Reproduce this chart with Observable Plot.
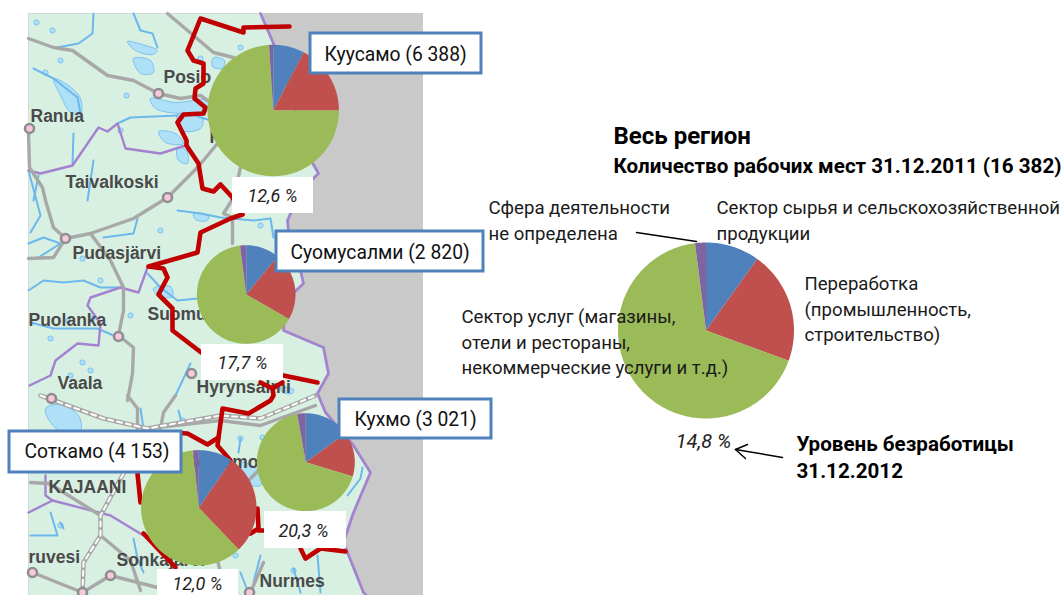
<!DOCTYPE html>
<html><head><meta charset="utf-8">
<script src="https://cdn.jsdelivr.net/npm/d3@7"></script>
<script src="https://cdn.jsdelivr.net/npm/@observablehq/plot@0.6"></script>
<style>html,body{margin:0;padding:0;background:#fff;overflow:hidden}svg{display:block}</style>
</head><body><div id="chart"></div>
<script>
// --- chart values ---
const sectors = ["Сектор сырья и сельскохозяйственной продукции","Переработка","Сектор услуг","Сфера деятельности не определена"];
const sectorColors = ["#4f81bd","#c0504d","#9bbb59","#8064a2"];
const kuusamo = [7.7,17.3,74,1];
const suomussalmi = [11,22.3,64.7,2];
const kuhmo = [15,14.7,67.5,2.8];
const sotkamo = [9.6,28.3,60.5,1.6];
const region = [9.9,20.7,67.4,2];
const pies = [
  {name:"Куусамо", values:kuusamo, cx:272.7, cy:110, r:65.7},
  {name:"Суомусалми", values:suomussalmi, cx:245.7, cy:294, r:49.3},
  {name:"Кухмо", values:kuhmo, cx:305.3, cy:461.7, r:49},
  {name:"Соткамо", values:sotkamo, cx:198.3, cy:507.3, r:57.7},
  {name:"Весь регион", values:region, cx:705.5, cy:330, r:88}
];
// --- background map in image coordinates ---
const land = [[28,13],[260,13],[273,43],[290,90],[305,150],[318,173],[300,190],[287,220],[290,250],[300,270],[303,283],[285,300],[283,330],[323,347],[328,373],[317,393],[325,412],[353,445],[370,472],[353,512],[343,542],[363,592],[366,595],[28,595]];
const eastBorder = land.slice(1,23);
const purple = [
 [[28,170],[40,173],[72,165],[98,127],[107,131],[117,123],[125,148],[160,153],[185,145]],
 [[147,267],[138,292],[120,287],[90,297],[87,305],[100,323],[98,345],[77,343],[55,360],[50,375],[29,385]],
 [[28,512],[52,500],[110,515],[143,535]],[[45,475],[45,495],[52,500]]
];
const roads = [
 [[28,38],[53,47],[72,50],[107,75],[133,80],[158,93],[180,98],[200,95],[207,100]],
 [[167,13],[193,35],[213,52],[233,57]],
 [[28,133],[29,167],[42,187],[45,200],[53,227],[65,238]],
 [[28,258],[53,257],[65,238],[90,233],[133,218],[167,197],[197,167],[217,143]],
 [[90,233],[110,260],[123,287],[123,310],[118,335],[133,347],[132,373],[127,400]],
 [[240,167],[233,197],[223,213],[232,217],[232,243]],
 [[127,395],[137,408],[137,428]],[[160,428],[163,412],[175,395]],
 [[30,482],[48,483]],[[110,575],[82,592]],[[32,572],[82,592]],[[110,575],[157,587]],
 [[250,592],[263,562]],[[248,480],[258,470]],[[215,550],[225,595]],
 [[100,515],[60,490],[48,483]],[[100,535],[130,560],[140,590]],[[147,428],[220,420],[260,425],[315,405]]
];
const rail = [
 [[40,395],[103,418],[147,428],[220,415],[260,418],[315,395]],
 [[123,473],[100,515],[100,535],[83,562],[82,592]]
];
const rivers = [
 [[93,13],[92,33],[78,43],[57,47]],[[133,13],[140,30],[152,33],[157,47]],
 [[33,68],[53,78],[77,97],[80,113]],[[117,123],[130,117],[177,115]],
 [[73,133],[72,163]],[[93,160],[87,200]],[[33,200],[38,175]],
 [[28,290],[43,280],[63,282],[83,280],[100,287],[120,287]],
 [[147,273],[160,287],[177,300],[197,298]],
 [[30,322],[53,328],[97,328],[113,335]],
 [[28,243],[43,237],[60,243],[38,257]],
 [[137,218],[133,233],[103,237]],
 [[177,210],[200,213],[220,217],[253,220],[270,218],[273,237]],
 [[190,363],[175,395]],[[140,408],[143,428]],[[178,410],[182,425]],
 [[240,438],[238,452]],[[362,467],[360,478],[347,495]],
 [[260,555],[253,582]],[[293,568],[300,592]],[[317,555],[320,592]],[[240,572],[247,590]],
 [[133,538],[137,558],[143,572]],[[60,522],[63,528]],[[50,512],[57,535],[30,535]],
 [[195,115],[225,125],[212,135]],[[28,170],[40,215],[30,232]]
];
const lakes = [
 [[45,408],[60,404],[78,415],[80,430],[62,432],[50,422]],
 [[150,98],[175,102],[207,100],[205,112],[180,113],[155,108]],
 [[127,41],[145,45],[157,50],[152,54],[135,50]],
 [[133,58],[150,60],[153,72],[140,73]],
 [[213,57],[224,60],[222,68],[212,66]],
 [[53,78],[68,85],[80,98],[80,114],[70,112],[60,95]],
 [[177,114],[202,118],[200,128],[182,130]],
 [[158,131],[175,133],[183,143],[165,142]],
 [[177,147],[186,150],[187,163],[178,160]],
 [[240,462],[258,470],[260,485],[245,482]],
 [[193,213],[208,215],[207,220],[195,219]],
 [[280,387],[293,389],[292,393],[282,392]],
 [[153,288],[170,286],[172,296],[158,296]]
];
const ponds = [[36,22],[52,30],[126,95],[200,58],[240,47],[60,60],[45,72],[120,130],[82,258],[100,280],[130,315],[92,318],[68,320],[82,362],[90,370],[70,375],[50,338],[60,525],[182,420],[240,438],[235,555],[262,437],[293,570],[160,230],[260,225]];
const towns = [[158,93],[29,128],[167,197],[65,238],[118,336],[191,373],[51,398],[32,572],[110,575],[82,592],[249,592]];
const townLabels = [
 ["Posio",163,77],["Ranua",30,116],["Taivalkoski",65,182],["Pudasjärvi",72,253],["Kuusamo",209,137],["Suomussalmi",147,314],
 ["Puolanka",28,320],["Vaala",57,383],["Hyrynsalmi",196,387],["KAJAANI",48,487],["ruvesi",28,557],["Sonkajärvi",116,560],["Nurmes",259,581],["Sotkamo",184,462]
];
const redLines = [
 [[289,26],[243,27],[243,32],[200,18],[187,50],[193,60],[203,63],[203,83],[195,88],[194,98],[205,107],[203,113],[183,114],[177,122],[186,140],[186,145],[198,163],[202,188],[213,191],[220,184],[232,197],[242,214],[230,218],[200,232],[197,252],[148,266],[163,268],[167,277],[158,294],[172,308],[172,330],[202,353]],
 [[283,375],[317,382]],[[260,382],[272,388],[282,382]],
 [[272,388],[273,395],[270,400],[248,413],[222,408],[218,437],[207,444],[187,433],[170,432]],
 [[218,437],[217,445],[230,460]],[[137,473],[140,502]],[[143,533],[175,567]],
 [[257,508],[258,528],[250,533]],[[258,530],[270,530]],
 [[345,551],[320,548],[305,558],[300,548]]
];
// --- annotations ---
const calloutBoxes = [[310,33,481,73],[276,231,483,271],[339,399,491,438],[9,431,181,472]];
const callouts = [["Куусамо (6 388)",324,54],["Суомусалми (2 820)",290,252],["Кухмо (3 021)",354,419],["Соткамо (4 153)",24,451]];
const rateBoxes = [[232,177,313,213],[201,344,283,380],[264,511,346,548],[157,569,238,595]];
const rates = [["12,6 %",272,196],["17,7 %",242,363],["20,3 %",303,531],["12,0 %",197,584]];
const regionRate = [["14,8 %",703,441]];
const notes = [
 ["Сфера деятельности",488,208],["не определена",488,234],
 ["Сектор сырья и сельскохозяйственной",716,208],["продукции",716,234],
 ["Переработка",804,284],["(промышленность,",804,310],["строительство)",804,335],
 ["Сектор услуг (магазины,",461,317],["отели и рестораны,",461,343],["некоммерческие услуги и т.д.)",461,368]
];
const headingBig = [["Весь регион",613,136]];
const headings = [["Количество рабочих мест 31.12.2011 (16 382)",613,166],["Уровень безработицы",796,444],["31.12.2012",796,471]];
const leader = [[636,232],[696,241]];
const arrow = [[782,457],[735,449]];
const arrowHead = [[747,444],[735,449],[745,458]];

// --- helpers turning the lists into mark rows ---
const rowsOf = (lines) => lines.flatMap((l,i)=>l.map(([x,y])=>({x,y,k:i})));
const pieRows = pies.flatMap((p,pi)=>{
  let a = 0; const total = d3.sum(p.values); const out = [];
  p.values.forEach((v,i)=>{
    const key = pi+"-"+i, a1 = a + v/total*2*Math.PI;
    out.push({x:p.cx,y:p.cy,key,sector:sectors[i]});
    const n = Math.max(2,Math.ceil((a1-a)/0.02));
    for (let j=0;j<=n;j++){const t=a+(a1-a)*j/n; out.push({x:p.cx+p.r*Math.sin(t),y:p.cy-p.r*Math.cos(t),key,sector:sectors[i]});}
    a = a1;
  });
  return out;
});
const strokeLines = (lines,stroke,strokeWidth,extra={}) =>
  Plot.line(rowsOf(lines),{x:"x",y:"y",z:"k",stroke,strokeWidth,curve:"linear",...extra});
const texts = (list,o) => Plot.text(list,{x:d=>d[1],y:d=>d[2],text:d=>d[0],lineAnchor:"middle",...o});
const boxes = (list,o) => Plot.rect(list,{x1:d=>d[0],y1:d=>d[1],x2:d=>d[2],y2:d=>d[3],...o});
const F = "Roboto, 'Open Sans', sans-serif";

const chart = Plot.plot({
  width:1064,height:595,margin:0,
  x:{domain:[0,1064],range:[0,1064],axis:null},
  y:{domain:[0,595],range:[0,595],axis:null},
  color:{domain:sectors,range:sectorColors},
  style:{background:"#fff"},
  marks:[
    boxes([[28,13,423,595]],{fill:"#c9c9c9"}),
    Plot.line(land.map(([x,y])=>({x,y})),{x:"x",y:"y",fill:"#d8f0e2",stroke:null,curve:"linear-closed"}),
    Plot.line(rowsOf(lakes),{x:"x",y:"y",z:"k",fill:"#aee0f7",stroke:"#6cb8ec",strokeWidth:0.8,curve:"catmull-rom-closed"}),
    Plot.dot(ponds,{x:d=>d[0],y:d=>d[1],r:2.6,fill:"#aee0f7",stroke:"#6cb8ec",strokeWidth:0.8}),
    strokeLines(rivers,"#6cb8ec",2),
    strokeLines(purple,"#a383cf",2.4),
    strokeLines([eastBorder],"#a383cf",2.8),
    strokeLines(roads,"#a8a8a8",3.4),
    strokeLines(rail,"#a8a8a8",4.6),
    strokeLines(rail,"#ffffff",2,{strokeDasharray:"5,4"}),
    Plot.dot(towns,{x:d=>d[0],y:d=>d[1],r:4.5,fill:"#f6c8dc",stroke:"#8e8e8e",strokeWidth:2.6}),
    texts(townLabels,{textAnchor:"start",fontFamily:"'Liberation Sans', sans-serif",fontWeight:"bold",fontSize:17.5,fill:"#4a4a4a"}),
    strokeLines(redLines,"#c00000",4.6),
    Plot.line(pieRows,{x:"x",y:"y",z:"key",fill:"sector",stroke:null,curve:"linear-closed"}),
    boxes(rateBoxes,{fill:"#fff"}),
    boxes(calloutBoxes,{fill:"#fff",stroke:"#4f81bd",strokeWidth:3}),
    texts(callouts,{textAnchor:"start",fontFamily:F,fontSize:19.3,fill:"#111"}),
    texts(rates,{textAnchor:"middle",fontFamily:F,fontStyle:"italic",fontSize:18,fill:"#222"}),
    texts(regionRate,{textAnchor:"middle",fontFamily:F,fontStyle:"italic",fontSize:20,fill:"#222"}),
    texts(notes,{textAnchor:"start",fontFamily:F,fontSize:18.6,fill:"#1a1a1a"}),
    texts(headingBig,{textAnchor:"start",fontFamily:F,fontWeight:"bold",fontSize:24,fill:"#000"}),
    texts(headings,{textAnchor:"start",fontFamily:F,fontWeight:"bold",fontSize:20.6,fill:"#000"}),
    strokeLines([leader],"#000",1.5),
    strokeLines([arrow],"#000",1.5),
    strokeLines([arrowHead],"#000",1.5)
  ]
});
document.getElementById("chart").append(chart);
</script></body></html>
